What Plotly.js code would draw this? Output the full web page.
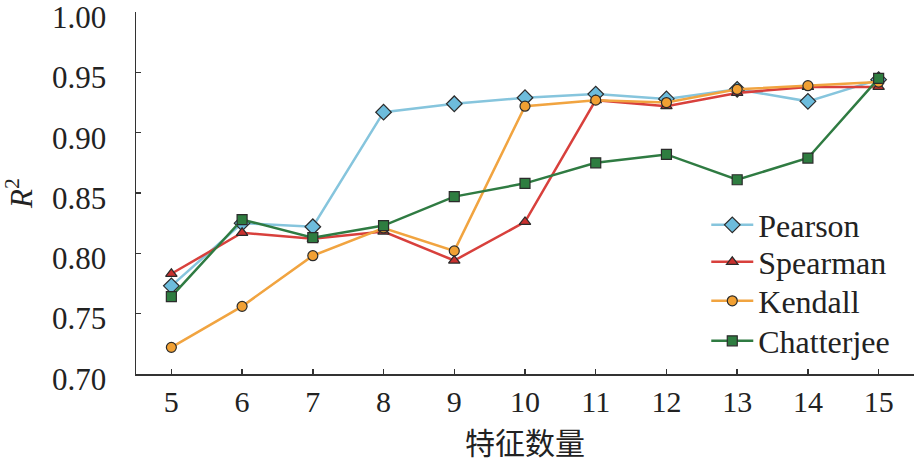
<!DOCTYPE html>
<html>
<head>
<meta charset="utf-8">
<script src="https://cdn.plot.ly/plotly-3.0.1.min.js"></script>
<style>
  html, body { margin: 0; padding: 0; background: #fff; }
  #chart { width: 915px; height: 464px; }
</style>
</head>
<body>
<div id="chart"></div>
<script>
// number of features on the x axis
var featureCounts = [5, 6, 7, 8, 9, 10, 11, 12, 13, 14, 15];

// R^2 per correlation method
var pearson    = [0.773, 0.825, 0.822, 0.917, 0.924, 0.929, 0.932, 0.928, 0.936, 0.926, 0.944];
var spearman   = [0.783, 0.817, 0.812, 0.818, 0.794, 0.826, 0.927, 0.922, 0.933, 0.938, 0.938];
var kendall    = [0.722, 0.756, 0.798, 0.821, 0.802, 0.922, 0.927, 0.925, 0.936, 0.939, 0.942];
var chatterjee = [0.764, 0.828, 0.813, 0.823, 0.847, 0.858, 0.875, 0.882, 0.861, 0.879, 0.945];

var yTicks = [0.70, 0.75, 0.80, 0.85, 0.90, 0.95, 1.00];

var serif = 'Liberation Serif';

function series(name, y, lineColor, fillColor, symbol, size, legendId) {
  return {
    x: featureCounts,
    y: y,
    type: 'scatter',
    mode: 'lines+markers',
    name: name,
    legend: legendId,
    line: { color: lineColor, width: 2.5 },
    marker: {
      symbol: symbol,
      size: size,
      color: fillColor,
      line: { color: '#2b2b2b', width: 1.2 }
    }
  };
}

var data = [
  series('Pearson', pearson, '#86c5dd', '#6dbcdc', 'diamond', 12, 'legend'),
  series('Spearman', spearman, '#d8403c', '#c9302e', 'triangle-up', 10, 'legend2'),
  series('Kendall', kendall, '#f1a440', '#f1a033', 'circle', 10, 'legend3'),
  series('Chatterjee', chatterjee, '#2f7b42', '#2e7d40', 'square', 10, 'legend4')
];

// one legend box per row so the rows sit as tight as in the reference
function legendBox(yPos) {
  return {
    x: 0.733,
    y: yPos,
    xanchor: 'left',
    yanchor: 'middle',
    bgcolor: 'rgba(0,0,0,0)',
    borderwidth: 0,
    font: { family: serif, size: 32, color: '#222' },
    itemwidth: 42
  };
}

var layout = {
  width: 915,
  height: 464,
  margin: { l: 136, r: 1, t: 12, b: 90 },
  paper_bgcolor: '#fff',
  plot_bgcolor: '#fff',
  font: { family: serif, size: 30, color: '#222' },
  showlegend: true,
  legend: legendBox((374 - 225) / 362),
  legend2: legendBox((374 - 262) / 362),
  legend3: legendBox((374 - 301) / 362),
  legend4: legendBox((374 - 341) / 362),
  xaxis: {
    range: [4.5, 15.5],
    tickvals: featureCounts,
    ticks: 'inside',
    ticklen: 5,
    tickwidth: 1.5,
    tickcolor: '#333',
    showline: true,
    linecolor: '#333',
    linewidth: 1.5,
    showgrid: false,
    zeroline: false,
    ticklabelstandoff: 0,
    tickfont: { family: serif, size: 30, color: '#222' },
    title: {
      text: '特征数量',
      font: { family: 'Noto Sans CJK SC', size: 30, color: '#222' },
      standoff: 16
    }
  },
  yaxis: {
    range: [0.6999, 1.0001],
    tickvals: yTicks,
    tickformat: '.2f',
    ticks: 'inside',
    ticklen: 5,
    tickwidth: 1.5,
    tickcolor: '#333',
    showline: true,
    linecolor: '#333',
    linewidth: 1.5,
    showgrid: false,
    zeroline: false,
    ticklabelstandoff: 22,
    ticklabelshift: 5,
    ticklabeloverflow: 'allow',
    tickfont: { family: serif, size: 31, color: '#222' },
    title: {
      text: '<i>R</i><sup>2</sup>',
      font: { family: serif, size: 31, color: '#222' },
      standoff: 20
    }
  }
};

var config = { staticPlot: true, displayModeBar: false };

Plotly.newPlot('chart', data, layout, config);
</script>
</body>
</html>
